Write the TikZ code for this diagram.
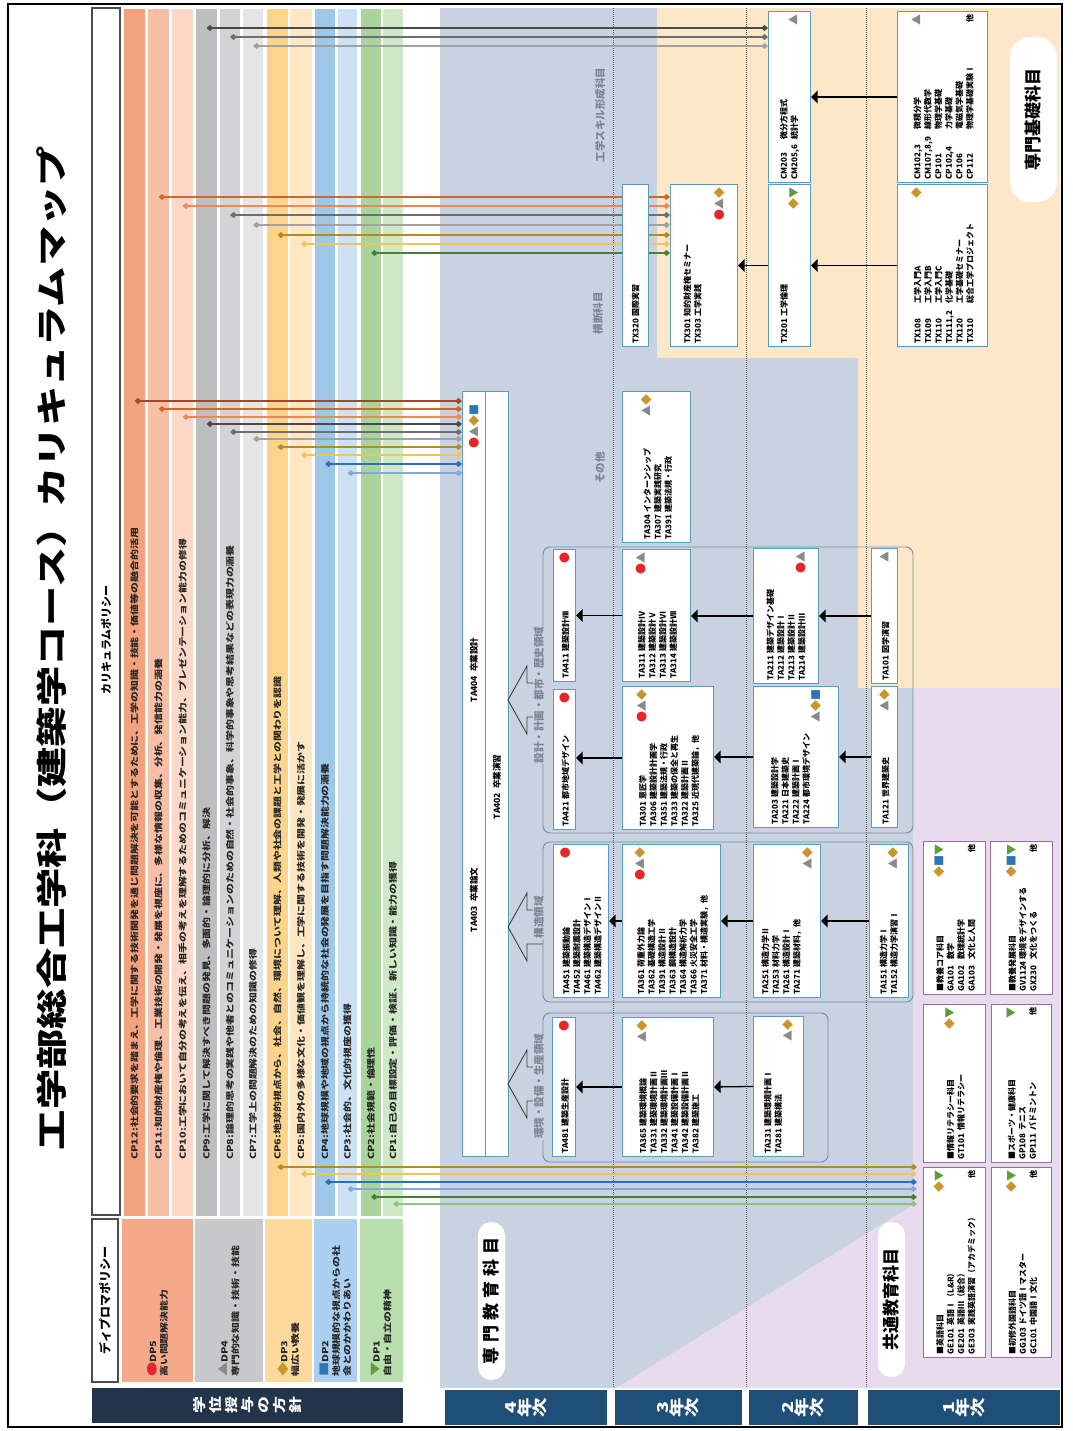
\documentclass[tikz,border=0pt]{standalone}
\usepackage{fontspec}
\setmainfont{Noto Sans CJK JP}
\newfontfamily\widefont{Noto Sans CJK JP}[FakeStretch=1.3]
\usetikzlibrary{arrows,arrows.meta}
\pgfdeclarelayer{back}
\pgfdeclarelayer{mid}
\pgfsetlayers{back,mid,main}

\definecolor{bgblue}{HTML}{C8D2E0}
\definecolor{bgtan}{HTML}{FCE8C8}
\definecolor{bglav}{HTML}{E9DBEE}
\definecolor{cs12}{HTML}{F3A27E}
\definecolor{cs11}{HTML}{F7BFA6}
\definecolor{cs10}{HTML}{FBD8C8}
\definecolor{cs9}{HTML}{BEBEC0}
\definecolor{cs8}{HTML}{D3D3D5}
\definecolor{cs7}{HTML}{E5E5E7}
\definecolor{cs6}{HTML}{FDD48C}
\definecolor{cs5}{HTML}{FEE7C2}
\definecolor{cs4}{HTML}{9EC7E8}
\definecolor{cs3}{HTML}{CCE2F4}
\definecolor{cs2}{HTML}{A9D49B}
\definecolor{cs1}{HTML}{CFE8C6}
\definecolor{cd5}{HTML}{F5A98B}
\definecolor{cd4}{HTML}{C8C8CA}
\definecolor{cd3}{HTML}{FDDA9C}
\definecolor{cd2}{HTML}{AACFEF}
\definecolor{cd1}{HTML}{BADFAF}
\definecolor{cl12}{HTML}{A0482A}
\definecolor{cl11}{HTML}{D0652E}
\definecolor{cl10}{HTML}{E9885A}
\definecolor{cl9}{HTML}{4A4A4A}
\definecolor{cl8}{HTML}{6E6E6E}
\definecolor{cl7}{HTML}{A2A2A2}
\definecolor{cl6}{HTML}{B98A1E}
\definecolor{cl5}{HTML}{F0C45A}
\definecolor{cl4}{HTML}{2F6EB5}
\definecolor{cl3}{HTML}{86A8D6}
\definecolor{cl2}{HTML}{4C7D3A}
\definecolor{cl1}{HTML}{8DC67C}
\definecolor{symred}{HTML}{E8262A}
\definecolor{symgray}{HTML}{8A8A8A}
\definecolor{symgold}{HTML}{C8962A}
\definecolor{symblue}{HTML}{2E75B6}
\definecolor{symgreen}{HTML}{5E9E3A}
\definecolor{boxedge}{HTML}{5B9BC0}
\definecolor{purpedge}{HTML}{9A6CA2}
\definecolor{grpedge}{HTML}{7F8B99}
\definecolor{labgray}{HTML}{7A8594}
\definecolor{yearblue}{HTML}{1F4E79}
\definecolor{navydark}{HTML}{22344A}

\newcommand\mk[2]{{\fontsize{11}{10}\selectfont\textcolor{#1}{#2}}}
\newcommand\sR{\mk{symred}{●}}
\newcommand\sG{\mk{symgray}{▲}}
\newcommand\sY{\mk{symgold}{◆}}
\newcommand\sB{\mk{symblue}{■}}
\newcommand\sV{\mk{symgreen}{▼}}
\newcommand\cd[2][3.4em]{\makebox[#1][l]{#2}}

\tikzset{
  crs/.style={draw=boxedge, fill=white, line width=1.1pt, inner sep=2pt, anchor=north west,
    align=left, font=\bfseries\fontsize{8}{10.5}\selectfont},
  kyo/.style={crs, draw=purpedge},
  grp/.style={draw=grpedge, line width=0.9pt, rounded corners=7pt},
  glab/.style={fill=bgblue, text=labgray, inner sep=1pt, font=\bfseries\fontsize{10.5}{10.5}\selectfont},
  clab/.style={text=labgray, inner sep=1pt, font=\bfseries\fontsize{10.5}{10.5}\selectfont},
  pill/.style={fill=white, rounded corners=13pt, inner sep=0pt, font=\bfseries\fontsize{17}{17}\selectfont},
  yr/.style={fill=yearblue, text=white, inner sep=0pt, align=center, minimum width=35pt,
    font=\widefont\bfseries\fontsize{15}{14}\selectfont},
  cpt/.style={anchor=west, inner sep=0pt, text=black!85, font=\widefont\bfseries\fontsize{8.4}{8.4}\selectfont},
  dpt/.style={anchor=west, inner sep=0pt, align=left, text=black!85,
    font=\widefont\bfseries\fontsize{8.4}{11}\selectfont},
  cpl/.style={line width=1.3pt, {Diamond[length=7pt,width=6pt]}-{Diamond[length=7pt,width=6pt]}},
  yline/.style={densely dotted, line width=1pt, black!65},
  harrow/.style={draw=black!75, line width=0.9pt},
  link/.style={->, line width=1.3pt}
}

\begin{document}
\begin{tikzpicture}[x=1pt, y=-1pt, >=triangle 90, every node/.style={rotate=90}]
\useasboundingbox (0,0) rectangle (1072,1431);

\begin{pgfonlayer}{back}
  \fill[bgblue] (440,8) rectangle (1060,1388);
  \fill[bgtan] (657,8) -- (1060,8) -- (1060,688) -- (858,688) -- (858,358) -- (657,358) -- cycle;
  \fill[bglav] (913,688) -- (1060,688) -- (1060,1388) -- (616,1388) -- (913,1205) -- cycle;

  \fill[cs12] (124,9) rectangle (145,1216);
  \fill[cs11] (148,9) rectangle (169,1216);
  \fill[cs10] (172,9) rectangle (193,1216);
  \fill[cs9] (196,9) rectangle (217,1216);
  \fill[cs8] (220,9) rectangle (240,1216);
  \fill[cs7] (243,9) rectangle (263,1216);
  \fill[cs6] (267,9) rectangle (288,1216);
  \fill[cs5] (290,9) rectangle (312,1216);
  \fill[cs4] (315,9) rectangle (335,1216);
  \fill[cs3] (338,9) rectangle (357,1216);
  \fill[cs2] (361,9) rectangle (381,1216);
  \fill[cs1] (383,9) rectangle (403,1216);

  \fill[cd5] (122,1219) rectangle (193,1382);
  \fill[cd4] (195,1219) rectangle (263,1382);
  \fill[cd3] (265,1219) rectangle (312,1382);
  \fill[cd2] (314,1219) rectangle (357,1382);
  \fill[cd1] (360,1219) rectangle (403,1382);

  \draw[yline] (613,8) -- (613,1388);
  \draw[yline] (746,8) -- (746,1388);
  \draw[yline] (866,8) -- (866,1388);
\end{pgfonlayer}

\node[font=\widefont\bfseries\fontsize{31}{31}\selectfont] (title) at (52,648) {工学部総合工学科（建築学コース）カリキュラムマップ};

\node[draw=black!70, line width=1.3pt, fill=white, minimum width=1207pt, minimum height=28pt] (cpbox) at (106,611.5) {};
\node[font=\bfseries\fontsize{11}{11}\selectfont] (cptitle) at (106,640) {カリキュラムポリシー};
\node[draw=black!70, line width=1.3pt, fill=white, minimum width=163pt, minimum height=26pt,
  font=\bfseries\fontsize{12}{12}\selectfont] (dpbox) at (105,1300.5) {ディプロマポリシー};

\node[cpt] (t12) at (134.5,1160) {CP12:社会的要求を踏まえ、工学に関する技術開発を通じ問題解決を可能とするために、工学の知識・技能・価値等の融合的活用};
\node[cpt] (t11) at (158.5,1160) {CP11:知的財産権や倫理、工業技術の開発・発展を視座に、多様な情報の収集、分析、発信能力の涵養};
\node[cpt] (t10) at (182.5,1160) {CP10:工学において自分の考えを伝え、相手の考えを理解するためのコミュニケーション能力、プレゼンテーション能力の修得};
\node[cpt] (t9) at (206.5,1160) {CP9:工学に関して解決すべき問題の発見、多面的・論理的に分析、解決};
\node[cpt] (t8) at (230,1160) {CP8:論理的思考の実践や他者とのコミュニケーションのための自然・社会的事象、科学的事象や思考結果などの表現力の涵養};
\node[cpt] (t7) at (253,1160) {CP7:工学上の問題解決のための知識の修得};
\node[cpt] (t6) at (277.5,1160) {CP6:地球的視点から、社会、自然、環境について理解、人類や社会の課題と工学との関わりを認識};
\node[cpt] (t5) at (301,1160) {CP5:国内外の多様な文化・価値観を理解し、工学に関する技術を開発・発展に活かす};
\node[cpt] (t4) at (325,1160) {CP4:地球規模や地域の視点から持続的な社会の発展を目指す問題解決能力の涵養};
\node[cpt] (t3) at (347.5,1160) {CP3:社会的、文化的視座の獲得};
\node[cpt] (t2) at (371,1160) {CP2:社会規範・倫理性};
\node[cpt] (t1) at (393,1160) {CP1:自己の目標設定・評価・検証、新しい知識・能力の獲得};

\node[dpt] (dp5) at (157.5,1377) {\sR DP5\\高い問題解決能力};
\node[dpt] (dp4) at (229,1377) {\sG DP4\\専門的な知識・技術・技能};
\node[dpt] (dp3) at (288.5,1377) {\sY DP3\\幅広い教養};
\node[dpt] (dp2) at (335.5,1377) {\sB DP2\\地球規模的な視点からの社\\会とのかかわりあい};
\node[dpt] (dp1) at (381.5,1377) {\sV DP1\\自由・自立の精神};

\draw[grp] (543,1013) rectangle (828,1162);
\draw[grp] (543,842) rectangle (913,1002);
\draw[grp] (543,547) rectangle (913,833);

\node[crs, minimum width=765pt, minimum height=46pt] (ta403) at (462,1157) {};
\draw[boxedge, line width=1.1pt] (ta403.west) -- (ta403.east);
\node[font=\bfseries\fontsize{8.5}{8.5}\selectfont] (n403) at (474,900) {TA403\ \ 卒業論文};
\node[font=\bfseries\fontsize{8.5}{8.5}\selectfont] (n404) at (474,670) {TA404\ \ 卒業設計};
\node[font=\bfseries\fontsize{8.5}{8.5}\selectfont] (n402) at (497,787) {TA402\ \ 卒業演習};
\node[inner sep=0pt] (m403) at (474,426) {\sR\sG\sY\sB};

\node[crs, minimum width=139pt, minimum height=23pt, text width=133pt] (ta481) at (552,1157)
  {\cd{TA481}建築生産設計\hspace*{\fill}\sR};
\node[crs, minimum width=153pt, minimum height=55pt, text width=147pt] (ta451) at (553,998)
  {\cd{TA451}建築振動論\hspace*{\fill}\sR\\\cd{TA452}建築耐震設計\\\cd{TA461}建築構造デザインⅠ\\\cd{TA462}建築構造デザインⅡ};
\node[crs, minimum width=140pt, minimum height=22pt, text width=134pt] (ta421) at (553,830)
  {\cd{TA421}都市地域デザイン\hspace*{\fill}\sR};
\node[crs, minimum width=132pt, minimum height=22pt, text width=126pt] (ta411) at (553,682)
  {\cd{TA411}建築設計Ⅷ\hspace*{\fill}\sR};

\node[crs, minimum width=139pt, minimum height=91pt, text width=133pt] (ta365) at (622,1157)
  {\cd{TA365}建築環境概論\hspace*{\fill}\sG\sY\\\cd{TA331}建築環境計画Ⅱ\\\cd{TA332}建築環境計画Ⅲ\\\cd{TA341}建築設備計画Ⅰ\\\cd{TA342}建築設備計画Ⅱ\\\cd{TA382}建築施工};
\node[crs, minimum width=153pt, minimum height=98pt, text width=147pt] (ta361) at (622,998)
  {\cd{TA361}荷重外力論\hspace*{\fill}\sR\sG\sY\\\cd{TA362}基礎構造工学\\\cd{TA391}構造設計Ⅱ\\\cd{TA363}鋼構造設計\\\cd{TA364}構造解析力学\\\cd{TA366}火災安全工学\\\cd{TA371}材料・構造実験，他};
\node[crs, minimum width=143pt, minimum height=91pt, text width=137pt] (ta301) at (622,830)
  {\cd{TA301}意匠学\hspace*{\fill}\sR\sG\sY\\\cd{TA306}建築設計計画学\\\cd{TA351}建築法規・行政\\\cd{TA333}建築の保全と再生\\\cd{TA322}建築計画Ⅱ\\\cd{TA325}近現代建築論，他};
\node[crs, minimum width=132pt, minimum height=68pt, text width=126pt] (ta311) at (622,682)
  {\cd{TA311}建築設計Ⅳ\hspace*{\fill}\sR\sG\\\cd{TA312}建築設計Ⅴ\\\cd{TA313}建築設計Ⅵ\\\cd{TA314}建築設計Ⅶ};
\node[crs, minimum width=151pt, minimum height=68pt, text width=145pt] (ta304) at (622,543)
  {\cd{TA304}インターンシップ\hspace*{\fill}\sG\sY\\\cd{TA307}建築実践研究\\\cd{TA391}建築法規・行政};
\node[crs, minimum width=162pt, minimum height=26pt, text width=156pt] (tx320) at (622,347)
  {\cd{TX320}国際実習};
\node[crs, minimum width=162pt, minimum height=67pt, text width=156pt] (tx301) at (670,347)
  {\cd{TX301}知的財産権セミナー\\\cd{TX303}工学実践\\[12pt]\hspace*{\fill}\sR\sG\sY};

\node[crs, minimum width=140pt, minimum height=50pt, text width=134pt] (ta231) at (753,1157)
  {\cd{TA231}建築環境計画Ⅰ\\\cd{TA281}建築構法\\\hspace*{\fill}\sG\sY};
\node[crs, minimum width=153pt, minimum height=67pt, text width=147pt] (ta251) at (753,998)
  {\cd{TA251}構造力学Ⅱ\\\cd{TA253}材料力学\\\cd{TA261}構造設計Ⅰ\\\cd{TA271}建築材料，他\\\hspace*{\fill}\sG\sY};
\node[crs, minimum width=141pt, minimum height=85pt, text width=135pt] (ta203) at (753,828)
  {\cd{TA203}建築設計学\\\cd{TA221}日本建築史\\\cd{TA222}建築計画Ⅰ\\\cd{TA224}都市環境デザイン\\\hspace*{\fill}\sG\sY\sB};
\node[crs, minimum width=135pt, minimum height=65pt, text width=129pt] (ta211) at (753,684)
  {\cd{TA211}建築デザイン基礎\\\cd{TA212}建築設計Ⅰ\\\cd{TA213}建築設計Ⅱ\\\cd{TA214}建築設計Ⅲ\hspace*{\fill}\sR\sG};
\node[crs, minimum width=162pt, minimum height=42pt, text width=156pt] (tx201) at (768,347)
  {\cd{TX201}工学倫理\\\hspace*{\fill}\sY\sV};
\node[crs, minimum width=171pt, minimum height=42pt, text width=165pt] (cm203) at (768,183)
  {\cd[5em]{CM203}微分方程式\\\cd[5em]{CM205,6}統計学\hspace*{\fill}\sG};

\node[crs, minimum width=135pt, minimum height=26pt, text width=129pt] (ta101) at (871,684)
  {\cd{TA101}図学演習\hspace*{\fill}\sG};
\node[crs, minimum width=141pt, minimum height=26pt, text width=135pt] (ta121) at (871,828)
  {\cd{TA121}世界建築史\hspace*{\fill}\sG\sY};
\node[crs, minimum width=153pt, minimum height=39pt, text width=147pt] (ta151) at (869,998)
  {\cd{TA151}構造力学Ⅰ\\\cd{TA152}構造力学演習Ⅰ\hspace*{\fill}\sG\sY};
\node[crs, minimum width=171pt, minimum height=90pt, text width=165pt] (cm102) at (897,183)
  {\cd[6.2em]{CM102,3}微積分学\hspace*{\fill}\sG\\\cd[6.2em]{CM107,8,9}線形代数学\\\cd[6.2em]{CP101}物理学基礎\\\cd[6.2em]{CP102,4}力学基礎\\\cd[6.2em]{CP106}電磁気学基礎\\\cd[6.2em]{CP112}物理学基礎実験Ⅰ\hspace*{\fill}他};
\node[crs, minimum width=162pt, minimum height=90pt, text width=156pt] (tx108) at (897,347)
  {\cd[5em]{TX108}工学入門A\hspace*{\fill}\sY\\\cd[5em]{TX109}工学入門B\\\cd[5em]{TX110}工学入門C\\\cd[5em]{TX111,2}化学基礎\\\cd[5em]{TX120}工学基礎セミナー\\\cd[5em]{TX310}総合工学プロジェクト};

\node[kyo, minimum width=190pt, minimum height=62pt, text width=184pt] (kyA) at (923,1358)
  {■英語科目\hspace*{\fill}\sY\sV\\\cd[3.6em]{GE101}英語Ⅰ（L\&R）\\\cd[3.6em]{GE201}英語Ⅲ（総合）\\\cd[3.6em]{GE303}実践英語演習（アカデミック）\hspace*{\fill}他};
\node[kyo, minimum width=190pt, minimum height=60pt, text width=184pt] (kyB) at (991,1358)
  {■初修外国語科目\hspace*{\fill}\sY\sV\\\cd[3.6em]{GG103}ドイツ語Ⅰマスター\\\cd[3.6em]{GC101}中国語Ⅰ文化\hspace*{\fill}他};
\node[kyo, minimum width=158pt, minimum height=62pt, text width=152pt] (kyC) at (923,1163)
  {■情報リテラシー科目\hspace*{\fill}\sY\sV\\\cd[3.6em]{GT101}情報リテラシー};
\node[kyo, minimum width=158pt, minimum height=60pt, text width=152pt] (kyD) at (991,1163)
  {■スポーツ・健康科目\hspace*{\fill}\sV\\\cd[3.6em]{GP108}テニス\\\cd[3.6em]{GP111}バドミントン\hspace*{\fill}他};
\node[kyo, minimum width=153pt, minimum height=62pt, text width=147pt] (kyE) at (923,995)
  {■教養コア科目\hspace*{\fill}\sY\sB\sV\\\cd[4em]{GA101}数学\\\cd[4em]{GA102}数理統計学\\\cd[4em]{GA103}文化と人間\hspace*{\fill}他};
\node[kyo, minimum width=153pt, minimum height=62pt, text width=147pt] (kyF) at (990,995)
  {■教養発展科目\hspace*{\fill}\sY\sB\sV\\\cd[4em]{GV1124}環境をデザインする\\\cd[4em]{GX230}文化をつくる\hspace*{\fill}他};

\coordinate (u9) at (206.5,28);
\coordinate (u8) at (230,37);
\coordinate (u7) at (253,46);
\coordinate (v11) at (158.5,197);
\coordinate (v10) at (182.5,206);
\coordinate (v8) at (230,215);
\coordinate (v7) at (253,225);
\coordinate (v6) at (277.5,235);
\coordinate (v5) at (301,244);
\coordinate (v2) at (371,253);
\coordinate (w12) at (134.5,401);
\coordinate (w11) at (158.5,409);
\coordinate (w10) at (182.5,417);
\coordinate (w9) at (206.5,424);
\coordinate (w8) at (230,432);
\coordinate (w7) at (253,439);
\coordinate (w6) at (277.5,447);
\coordinate (w5) at (301,455);
\coordinate (w4) at (325,464);
\coordinate (w3) at (347.5,473);
\coordinate (k6) at (277.5,1167);
\coordinate (k5) at (301,1174);
\coordinate (k4) at (325,1182);
\coordinate (k3) at (347.5,1189);
\coordinate (k2) at (371,1197);
\coordinate (k1) at (393,1204);
\coordinate (kend) at (917,1185);

\begin{pgfonlayer}{mid}
  \draw[cpl, cl9] (u9) -- (u9 -| cm203.north);
  \draw[cpl, cl8] (u8) -- (u8 -| cm203.north);
  \draw[cpl, cl7] (u7) -- (u7 -| cm203.north);

  \draw[cpl, cl11] (v11) -- (v11 -| tx301.north);
  \draw[cpl, cl10] (v10) -- (v10 -| tx301.north);
  \draw[cpl, cl8] (v8) -- (v8 -| tx301.north);
  \draw[cpl, cl7] (v7) -- (v7 -| tx301.north);
  \draw[cpl, cl6] (v6) -- (v6 -| tx301.north);
  \draw[cpl, cl5] (v5) -- (v5 -| tx301.north);
  \draw[cpl, cl2] (v2) -- (v2 -| tx301.north);

  \draw[cpl, cl12] (w12) -- (w12 -| ta403.north);
  \draw[cpl, cl11] (w11) -- (w11 -| ta403.north);
  \draw[cpl, cl10] (w10) -- (w10 -| ta403.north);
  \draw[cpl, cl9] (w9) -- (w9 -| ta403.north);
  \draw[cpl, cl8] (w8) -- (w8 -| ta403.north);
  \draw[cpl, cl7] (w7) -- (w7 -| ta403.north);
  \draw[cpl, cl6] (w6) -- (w6 -| ta403.north);
  \draw[cpl, cl5] (w5) -- (w5 -| ta403.north);
  \draw[cpl, cl4] (w4) -- (w4 -| ta403.north);
  \draw[cpl, cl3] (w3) -- (w3 -| ta403.north);

  \draw[cpl, cl6] (k6) -- (k6 -| kend);
  \draw[cpl, cl5] (k5) -- (k5 -| kend);
  \draw[cpl, cl4] (k4) -- (k4 -| kend);
  \draw[cpl, cl3] (k3) -- (k3 -| kend);
  \draw[cpl, cl2] (k2) -- (k2 -| kend);
  \draw[cpl, cl1] (k1) -- (k1 -| kend);
\end{pgfonlayer}

\draw[link] (ta365.north) -- (ta481.south);
\draw[link] (ta231.north) -- (ta365.south);
\draw[link] (ta361.north) -- (ta451.south);
\draw[link] (ta251.north) -- (ta361.south);
\draw[link] (ta151.north) -- (ta251.south);
\draw[link] (ta301.north) -- (ta301.north -| ta421.south);
\draw[link] (ta203.north) -- (ta203.north -| ta301.south);
\draw[link] (ta121.north) -- (ta203.south);
\draw[link] (ta311.north) -- (ta411.south);
\draw[link] (ta211.north) -- (ta211.north -| ta311.south);
\draw[link] (ta101.north) -- (ta101.north -| ta211.south);
\draw[link] (cm102.north) -- (cm203.south);
\draw[link] (tx108.north) -- (tx201.south);
\draw[link] (tx201.north) -- (tx301.south);

\draw[harrow] (543,1067) -- (527,1067) -- (527,1050) -- (508,1084) -- (527,1118) -- (527,1101) -- (543,1101);
\draw[harrow] (543,910) -- (527,910) -- (527,893) -- (508,927) -- (527,961) -- (527,944) -- (543,944);
\draw[harrow] (543,683) -- (527,683) -- (527,666) -- (508,700) -- (527,734) -- (527,717) -- (543,717);

\node[glab] (g1lab) at (539,1086) {環境・設備・生産領域};
\node[glab] (g2lab) at (539,917) {構造領域};
\node[glab] (g3lab) at (539,695) {設計・計画・都市・歴史領域};

\node[clab] (skill) at (600,115) {工学スキル形成科目};
\node[clab] (oudan) at (598,313) {横断科目};
\node[clab] (sonota) at (600,468) {その他};

\node[pill, minimum width=158pt, minimum height=27pt,
  font=\bfseries\fontsize{17}{17}\selectfont\addfontfeature{LetterSpace=30}] (senmon) at (491.5,1301) {専門教育科目};
\node[pill, minimum width=155pt, minimum height=27pt] (kyotsu) at (891.5,1299.5) {共通教育科目};
\node[pill, minimum width=165pt, minimum height=47pt, rounded corners=20pt] (kiso) at (1033.5,119.5) {専門基礎科目};

\node[yr, fill=navydark, minimum height=311pt, font=\widefont\bfseries\fontsize{13}{16}\selectfont] (gakui) at (247.5,1405.5) {学\\位\\授\\与\\の\\方\\針};
\node[yr, minimum height=162pt] (y4) at (526,1407.5) {4\\年\\次};
\node[yr, minimum height=127pt] (y3) at (678.5,1407.5) {3\\年\\次};
\node[yr, minimum height=109pt] (y2) at (803.5,1407.5) {2\\年\\次};
\node[yr, minimum height=192pt] (y1) at (964,1407.5) {1\\年\\次};

\draw[line width=1.2pt] (8,4) rectangle (1062,1427);
\end{tikzpicture}
\end{document}
